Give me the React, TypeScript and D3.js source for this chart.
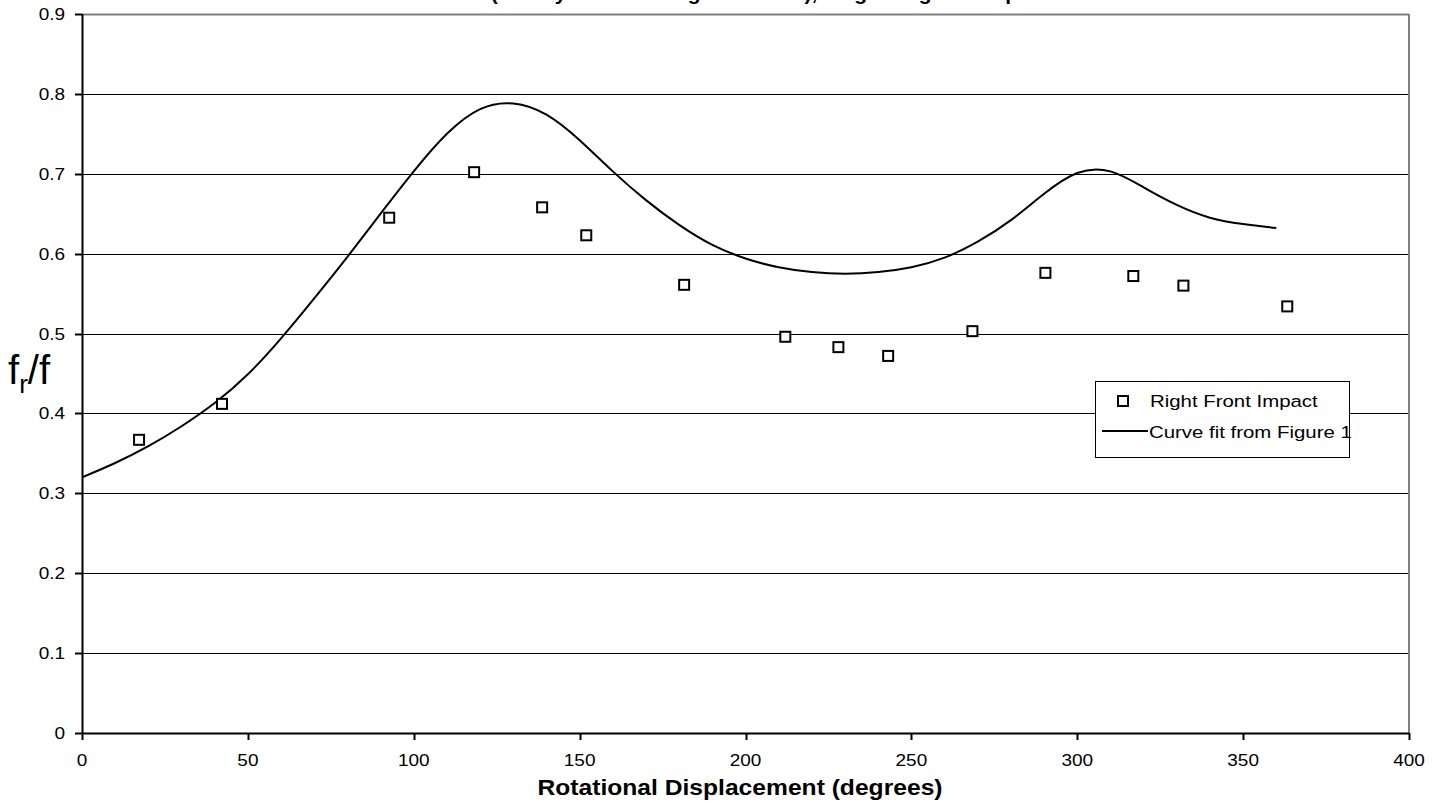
import React from "react";
import * as d3 from "d3";

const titleText = "Rotation (Steady State Rolling Condition), Target Angle of Impact";
const xTicks = [0, 50, 100, 150, 200, 250, 300, 350, 400];
const yTicks = [0, 0.1, 0.2, 0.3, 0.4, 0.5, 0.6, 0.7, 0.8, 0.9];

const impactX = [17.2, 42.2, 92.6, 118.2, 138.7, 152, 181.5, 212, 228, 243, 268.4, 290.4, 316.9, 332, 363.3];
const impactY = [0.367, 0.412, 0.645, 0.702, 0.658, 0.623, 0.561, 0.496, 0.483, 0.472, 0.503, 0.576, 0.572, 0.56, 0.534];

const curveX = [0, 10, 20, 30, 40, 50, 60, 70, 80, 90, 100, 110, 120, 130, 140, 150, 160, 170, 180, 190, 200, 210, 220, 230, 240, 250, 260, 270, 280, 290, 300, 310, 320, 330, 340, 350, 360];
const curveY = [0.32, 0.338, 0.359, 0.384, 0.413, 0.449, 0.494, 0.544, 0.596, 0.65, 0.703, 0.75, 0.781, 0.788, 0.774, 0.742, 0.703, 0.667, 0.636, 0.611, 0.594, 0.583, 0.577, 0.575, 0.577, 0.583, 0.595, 0.615, 0.642, 0.675, 0.701, 0.703, 0.683, 0.661, 0.645, 0.637, 0.632];

const legendLabels = ["Right Front Impact", "Curve fit from Figure 1"];

const W = 1446;
const H = 807;
const L = 82, R = 1409, T = 14, B = 733;
const FONT = "'Liberation Sans', Arial, sans-serif";

export default function App() {
  const x = d3.scaleLinear().domain([0, 400]).range([L, R]);
  const y = d3.scaleLinear().domain([0, 0.9]).range([B, T]);
  const line = d3
    .line<number>()
    .x((_, i) => x(curveX[i]))
    .y((d) => y(d))
    .curve(d3.curveNatural);

  const pts = impactX.map((v, i) => [x(v), y(impactY[i])]);

  return (
    <svg
      width={W}
      height={H}
      style={{ position: "absolute", left: 0, top: 0, background: "#fff" }}
      fontFamily={FONT}
    >
      <rect x={0} y={0} width={W} height={H} fill="#fff" />
      <text
        x={724}
        y={0}
        textAnchor="middle"
        fontSize={21}
        fontWeight="bold"
        fill="#000"
      >
        {titleText}
      </text>
      {/* gridlines */}
      {yTicks.slice(1).map((t) => (
        <line
          key={"g" + t}
          x1={L}
          x2={R}
          y1={Math.round(y(t)) + 0.5}
          y2={Math.round(y(t)) + 0.5}
          stroke={t === 0.9 ? "#808080" : "#000"}
          strokeWidth={t === 0.9 ? 2 : 1}
        />
      ))}
      {/* right frame */}
      <line x1={R} x2={R} y1={T} y2={B} stroke="#808080" strokeWidth={2} />
      {/* axes */}
      <line x1={L + 0.5} x2={L + 0.5} y1={T} y2={B} stroke="#000" strokeWidth={2} />
      <line x1={L} x2={R} y1={B + 0.5} y2={B + 0.5} stroke="#000" strokeWidth={2} />
      {yTicks.map((t) => (
        <g key={"yt" + t}>
          <line x1={L - 7} x2={L} y1={Math.round(y(t)) + 0.5} y2={Math.round(y(t)) + 0.5} stroke="#000" strokeWidth={2} />
          <text
            transform={`translate(${L - 17},${y(t) + 6}) scale(1.15,1)`}
            textAnchor="end"
            fontSize={16.5}
            fill="#000"
          >
            {t === 0 ? "0" : t.toFixed(1)}
          </text>
        </g>
      ))}
      {xTicks.map((t) => (
        <g key={"xt" + t}>
          <line x1={Math.round(x(t)) + 0.5} x2={Math.round(x(t)) + 0.5} y1={B} y2={B + 7} stroke="#000" strokeWidth={2} />
          <text
            transform={`translate(${x(t)},${766}) scale(1.15,1)`}
            textAnchor="middle"
            fontSize={16.5}
            fill="#000"
          >
            {t}
          </text>
        </g>
      ))}
      {/* curve */}
      <path d={line(curveY) || ""} fill="none" stroke="#000" strokeWidth={2} />
      {/* markers */}
      {pts.map(([px, py], i) => (
        <rect
          key={"m" + i}
          x={px - 5}
          y={py - 5}
          width={10}
          height={10}
          fill="#fff"
          stroke="#000"
          strokeWidth={2}
        />
      ))}
      {/* axis titles */}
      <text
        transform={`translate(740,795) scale(1.12,1)`}
        textAnchor="middle"
        fontSize={22}
        fontWeight="bold"
        fill="#000"
      >
        Rotational Displacement (degrees)
      </text>
      <text x={8} y={384} fontSize={40} fill="#000">
        f
        <tspan fontSize={26} dy={9}>r</tspan>
        <tspan dy={-9}>/f</tspan>
      </text>
      {/* legend */}
      <rect x={1095.5} y={381.5} width={254} height={76} fill="#fff" stroke="#000" strokeWidth={1} />
      <rect x={1118} y={396} width={10} height={10} fill="#fff" stroke="#000" strokeWidth={2} />
      <text transform="translate(1150,407) scale(1.2,1)" fontSize={17} fill="#000">
        {legendLabels[0]}
      </text>
      <line x1={1102} x2={1148} y1={431} y2={431} stroke="#000" strokeWidth={2} />
      <text transform="translate(1149,438) scale(1.2,1)" fontSize={17} fill="#000">
        {legendLabels[1]}
      </text>
    </svg>
  );
}
